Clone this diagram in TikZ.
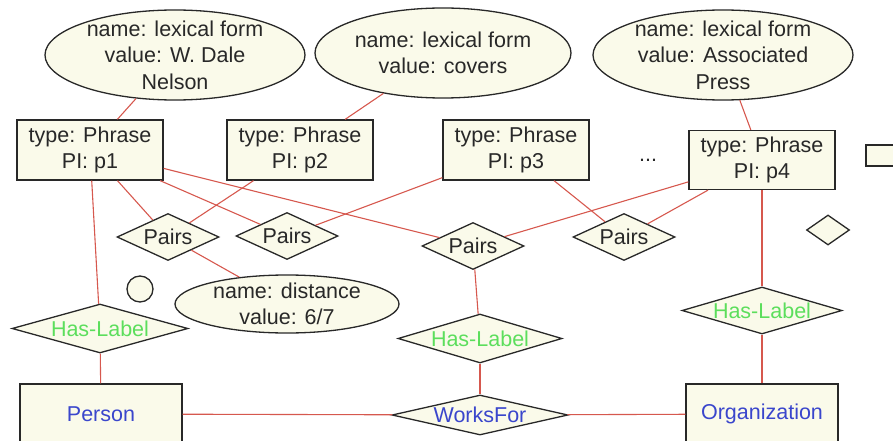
\documentclass[tikz,border=0pt]{standalone}
\usepackage{fontspec}
\setmainfont{Liberation Sans}
\usetikzlibrary{shapes.geometric}

\definecolor{creamfill}{RGB}{250,250,234}
\definecolor{edgecol}{RGB}{40,40,40}
\definecolor{linkred}{RGB}{214,88,78}
\definecolor{inktext}{RGB}{40,40,40}
\definecolor{labelgreen}{RGB}{92,222,92}
\definecolor{entityblue}{RGB}{58,70,204}

\tikzset{
  shapebase/.style={draw=edgecol, fill=creamfill, line width=1.3pt, inner sep=0pt},
  attr/.style={shapebase, ellipse},
  entbox/.style={shapebase, rectangle},
  rel/.style={shapebase, diamond},
  pairsrel/.style={rel, minimum width=102pt, minimum height=47pt},
  labelrel/.style={rel, minimum width=176pt, minimum height=49pt},
  phrasebox/.style={entbox, minimum width=146pt, minimum height=60pt},
  txt/.style={font=\fontsize{21.5}{26.5}\selectfont, text=inktext, align=center, inner sep=0pt},
  link/.style={draw=linkred, line width=1.1pt}
}

\begin{document}
\begin{tikzpicture}[x=1pt, y=-1pt]
\useasboundingbox (0,0) rectangle (893,441);

% attribute ellipses
\node[attr, minimum width=260pt, minimum height=90pt] (e1) at (175,55) {};
\node[attr, minimum width=256pt, minimum height=90pt] (e2) at (443,53) {};
\node[attr, minimum width=260pt, minimum height=90pt] (e3) at (723,55) {};
\node[attr, minimum width=224pt, minimum height=58pt] (ed) at (287,304) {};

% phrase boxes
\node[phrasebox] (b1) at (90,150) {};
\node[phrasebox] (b2) at (300,150) {};
\node[phrasebox] (b3) at (516,150) {};
\node[phrasebox, minimum height=59pt] (b4) at (762,160) {};

% pair relations
\node[pairsrel] (p1) at (168,237) {};
\node[pairsrel] (p2) at (287,236) {};
\node[pairsrel] (p3) at (473,246) {};
\node[pairsrel] (p4) at (624,237) {};

% label relations
\node[labelrel] (h1) at (100,328.5) {};
\node[labelrel, minimum width=164pt] (h2) at (480,338.5) {};
\node[labelrel, minimum width=160pt, minimum height=47pt] (h3) at (762,310.5) {};
\node[labelrel, minimum height=40pt] (wf) at (480,415) {};

% entities
\node[entbox, minimum width=162pt, minimum height=60pt] (person) at (101,414) {};
\node[entbox, minimum width=152pt, minimum height=60pt] (org) at (762,414) {};

% legend glyphs
\node[shapebase, rectangle, minimum width=34pt, minimum height=21pt] (legrect) at (883,155.5) {};
\node[shapebase, diamond, minimum width=43pt, minimum height=30pt] (legdiam) at (828,230) {};
\node[shapebase, circle, minimum size=26pt] (legcirc) at (140,289) {};

% connectors
\path[link] (e1) -- (b1);
\path[link] (e2) -- (b2);
\path[link] (e3) -- (b4);
\path[link] (b1) -- (h1);
\path[link] (b1) -- (p1);
\path[link] (b1) -- (p2);
\path[link] (b1) -- (p3);
\path[link] (b2) -- (p1);
\path[link] (b3) -- (p2);
\path[link] (b3) -- (p4);
\path[link] (b4) -- (p3);
\path[link] (b4) -- (p4);
\path[link] (b4) -- (h3);
\path[link] (p1) -- (ed);
\path[link] (p3) -- (h2);
\path[link] (h2) -- (wf);
\path[link] (h1) -- (person);
\path[link] (h3) -- (org);
\path[link] (person) -- (wf);
\path[link] (wf) -- (org);

% texts
\node[txt] (e1t) at (e1) {name: lexical form\\value: W. Dale\\Nelson};
\node[txt] (e2t) at (e2) {name: lexical form\\value: covers};
\node[txt] (e3t) at (e3) {name: lexical form\\value: Associated\\Press};
\node[txt] (edt) at (ed) {name: distance\\value: 6/7};
\node[txt] (b1t) at (b1) {type: Phrase\\PI: p1};
\node[txt] (b2t) at (b2) {type: Phrase\\PI: p2};
\node[txt] (b3t) at (b3) {type: Phrase\\PI: p3};
\node[txt] (b4t) at (b4) {type: Phrase\\PI: p4};
\node[txt] (dots) at (648,160) {...};
\node[txt] (p1t) at (p1) {Pairs};
\node[txt] (p2t) at (p2) {Pairs};
\node[txt] (p3t) at (p3) {Pairs};
\node[txt] (p4t) at (p4) {Pairs};
\node[txt, text=labelgreen] (h1t) at (h1) {Has-Label};
\node[txt, text=labelgreen] (h2t) at (h2) {Has-Label};
\node[txt, text=labelgreen] (h3t) at (h3) {Has-Label};
\node[txt, text=entityblue] (wft) at (wf) {WorksFor};
\node[txt, text=entityblue] (persont) at (person) {Person};
\node[txt, text=entityblue] (orgt) at (org) {Organization};
\end{tikzpicture}
\end{document}
